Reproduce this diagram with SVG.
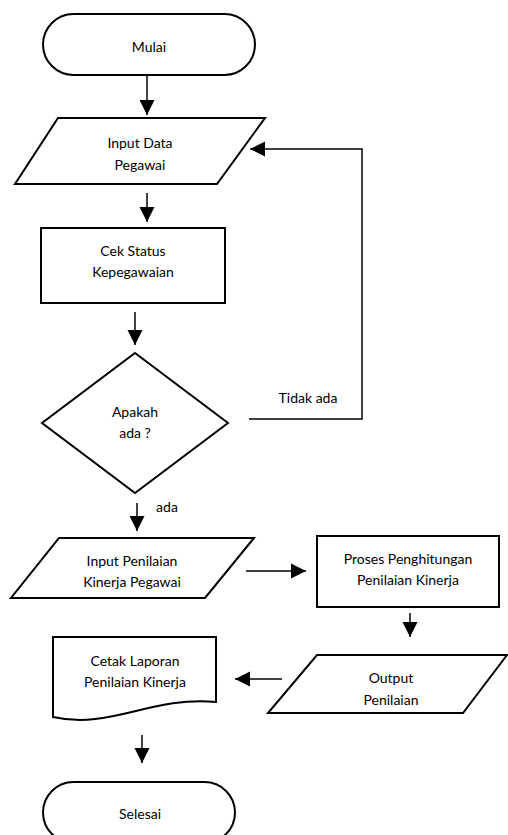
<svg xmlns="http://www.w3.org/2000/svg" width="508" height="835" viewBox="0 0 508 835">
<defs>
<style>
.s{fill:#fff;stroke:#000;stroke-width:2}
.c{fill:none;stroke:#000;stroke-width:1.5}
text{font-family:Lato,"Open Sans","Liberation Sans",sans-serif;font-size:14px;fill:#000;text-anchor:middle;dominant-baseline:central}
</style>
<marker id="ah" markerUnits="userSpaceOnUse" markerWidth="16" markerHeight="16" refX="15" refY="8" orient="auto" viewBox="0 0 16 16">
<path d="M0,0.5 L15,8 L0,15.5 z" fill="#000"/>
</marker>
</defs>
<rect width="508" height="835" fill="#fff"/>
<g id="connectors">
<line class="c" x1="147" y1="76" x2="147" y2="115" marker-end="url(#ah)"/>
<line class="c" x1="147" y1="193" x2="147" y2="222" marker-end="url(#ah)"/>
<line class="c" x1="135" y1="312" x2="135" y2="345" marker-end="url(#ah)"/>
<path class="c" d="M249,419 H362 V149 H250" marker-end="url(#ah)"/>
<line class="c" x1="137" y1="503" x2="137" y2="531" marker-end="url(#ah)"/>
<line class="c" x1="246" y1="571" x2="306" y2="571" marker-end="url(#ah)"/>
<line class="c" x1="410" y1="613" x2="410" y2="637" marker-end="url(#ah)"/>
<line class="c" x1="282" y1="679" x2="235" y2="679" marker-end="url(#ah)"/>
<line class="c" x1="142" y1="735" x2="142" y2="763" marker-end="url(#ah)"/>
<text x="308" y="397">Tidak ada</text>
<text x="167" y="506">ada</text>
</g>
<g id="mulai">
<rect class="s" x="43" y="14" width="212" height="61" rx="30.5"/>
<text x="149" y="46">Mulai</text>
</g>
<g id="input-data">
<polygon class="s" points="58,118 265,118 217,184 15,184"/>
<text x="140" y="142">Input Data</text>
<text x="140" y="164">Pegawai</text>
</g>
<g id="cek-status">
<rect class="s" x="41" y="228" width="184" height="75"/>
<text x="133" y="250">Cek Status</text>
<text x="133" y="271">Kepegawaian</text>
</g>
<g id="decision">
<polygon class="s" points="135,353 228,423 135,493 42,423"/>
<text x="135" y="411">Apakah</text>
<text x="135" y="432">ada ?</text>
</g>
<g id="input-penilaian">
<polygon class="s" points="59,538 254,538 205,598 11,598"/>
<text x="132" y="560">Input Penilaian</text>
<text x="132" y="581">Kinerja Pegawai</text>
</g>
<g id="proses">
<rect class="s" x="317" y="536" width="182" height="71"/>
<text x="408" y="558">Proses Penghitungan</text>
<text x="408" y="579">Penilaian Kinerja</text>
</g>
<g id="output">
<polygon class="s" points="317,655 507,655 463,713 268,713"/>
<text x="391" y="677">Output</text>
<text x="391" y="699">Penilaian</text>
</g>
<g id="cetak">
<path class="s" d="M53,637 H216 V702 C150,696 110,730 53,717 Z"/>
<text x="135" y="660">Cetak Laporan</text>
<text x="135" y="681">Penilaian Kinerja</text>
</g>
<g id="selesai">
<rect class="s" x="43" y="782" width="192" height="61" rx="30.5"/>
<text x="140" y="813">Selesai</text>
</g>
</svg>
